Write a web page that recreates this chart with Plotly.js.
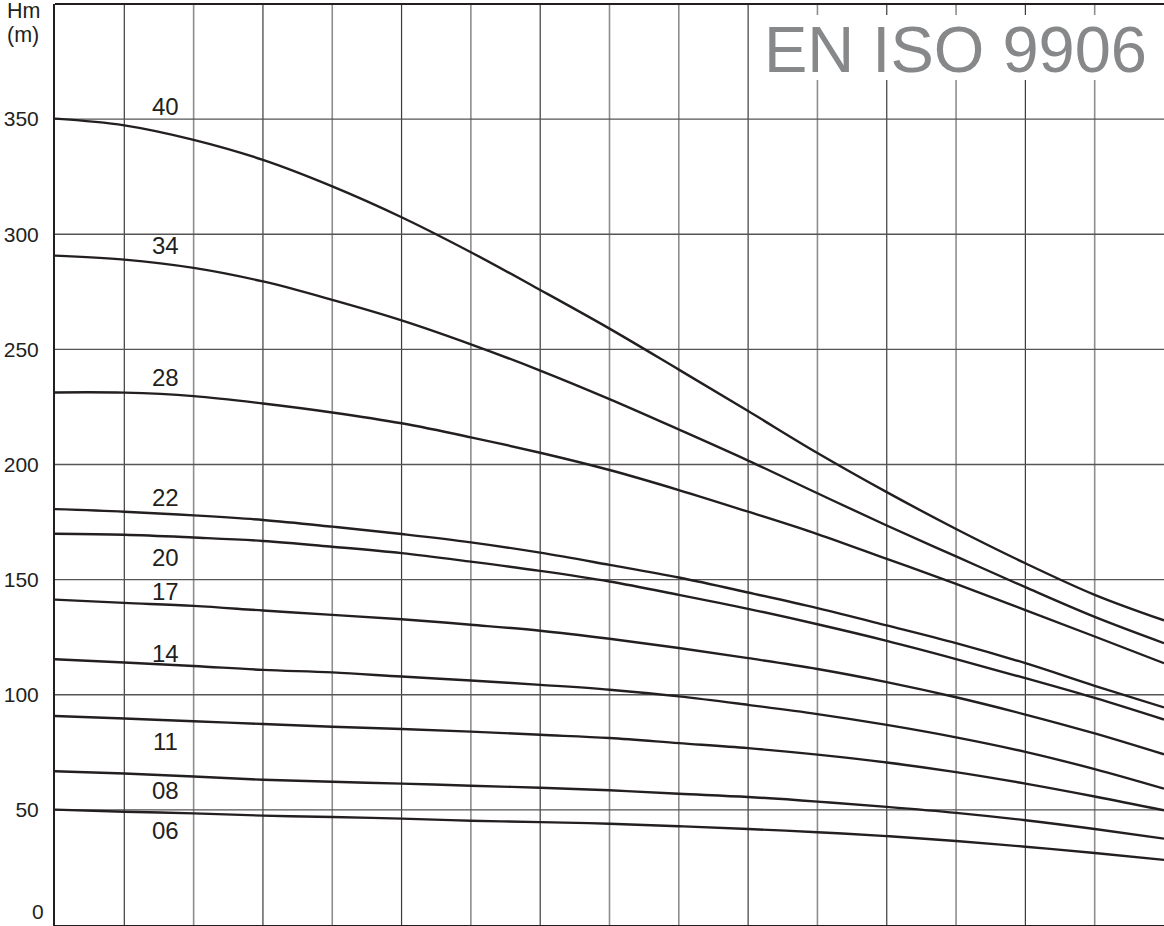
<!DOCTYPE html>
<html>
<head>
<meta charset="utf-8">
<script src="https://cdn.plot.ly/plotly-3.0.1.min.js"></script>
<style>
  html, body { margin: 0; padding: 0; background: #ffffff; }
  #chart { width: 1164px; height: 926px; }
</style>
</head>
<body>
<div id="chart"></div>
<script>
// ---- data ----
// flow axis has no printed values: positions are gridline indices
const flow = [0, 1, 2, 3, 4, 5, 6, 7, 8, 9, 10, 11, 12, 13, 14, 15, 16];
const pumpModels = ['40', '34', '28', '22', '20', '17', '14', '11', '08', '06'];
const head40 = [350.2, 347.3, 341.0, 332.3, 320.8, 307.4, 292.2, 275.8, 259.0, 241.2, 223.2, 205.0, 188.0, 172.0, 157.1, 143.4, 132.3];
const head34 = [290.7, 289.0, 285.4, 279.5, 271.5, 262.6, 252.2, 240.8, 228.4, 215.2, 201.7, 187.5, 173.5, 160.1, 146.7, 133.8, 122.4];
const head28 = [231.3, 231.2, 229.7, 226.5, 222.6, 217.9, 211.8, 205.1, 197.6, 188.9, 179.5, 169.8, 159.0, 148.2, 136.8, 125.3, 113.7];
const head22 = [180.6, 179.5, 177.9, 175.9, 173.0, 169.8, 166.2, 161.7, 156.4, 150.9, 144.4, 137.6, 130.1, 122.4, 113.7, 103.9, 94.5];
const head20 = [169.9, 169.5, 168.3, 166.8, 164.3, 161.5, 157.8, 153.8, 149.2, 143.4, 137.3, 130.6, 123.4, 115.5, 107.2, 98.6, 89.2];
const head17 = [141.3, 139.9, 138.6, 136.6, 134.7, 132.8, 130.4, 127.8, 124.3, 120.3, 115.9, 111.2, 105.5, 98.9, 91.4, 83.2, 74.1];
const head14 = [115.4, 114.0, 112.5, 110.8, 109.7, 107.9, 106.2, 104.3, 102.2, 99.3, 95.6, 91.6, 86.9, 81.5, 75.2, 67.7, 59.2];
const head11 = [90.8, 89.7, 88.5, 87.3, 86.1, 85.1, 84.0, 82.6, 81.2, 79.0, 76.8, 74.0, 70.6, 66.4, 61.4, 55.8, 49.8];
const head08 = [66.8, 65.8, 64.5, 63.1, 62.2, 61.4, 60.5, 59.6, 58.5, 57.0, 55.6, 53.6, 51.3, 48.7, 45.5, 41.7, 37.5];
const head06 = [50.1, 49.2, 48.5, 47.5, 46.9, 46.2, 45.3, 44.7, 44.0, 42.9, 41.7, 40.3, 38.6, 36.5, 34.0, 31.3, 28.3];
const yTickVals = [0, 50, 100, 150, 200, 250, 300, 350];
const yTickText = ['0', '50', '100', '150', '200', '250', '300', '350'];
const yAxisLabel = ['Hm', '(m)'];
const standardText = 'EN ISO 9906';

// ---- drawing ----
const heads = [head40, head34, head28, head22, head20, head17, head14, head11, head08, head06];
const ink = '#231f20';
const darkGrid = '#3a3a3a';
const lightGrid = '#8e8e8e';
const fontFam = 'Liberation Sans, Arial, sans-serif';

const traces = heads.map((h, i) => ({
  x: flow, y: h, type: 'scatter', mode: 'lines', name: pumpModels[i],
  line: { color: ink, width: 2.4, shape: 'spline', smoothing: 1 },
  hoverinfo: 'skip'
}));

const shapes = [];
const darkCols = [1, 3, 5, 7, 10, 12, 14];
for (let k = 1; k < flow.length - 1; k++) {
  const dark = darkCols.includes(k);
  shapes.push({ type: 'line', layer: 'below', xref: 'x', yref: 'paper', x0: k, x1: k, y0: 0, y1: 1,
    line: { color: dark ? darkGrid : lightGrid, width: dark ? 1.2 : 1.6 } });
}
yTickVals.slice(1).forEach(v => {
  shapes.push({ type: 'line', layer: 'below', xref: 'paper', yref: 'y', x0: 0, x1: 1, y0: v, y1: v,
    line: { color: '#555555', width: 1.3 } });
});
// white panel behind the standard label
shapes.push({ type: 'rect', layer: 'below', xref: 'paper', yref: 'paper',
  x0: 0.638, x1: 0.99, y0: 0.9175, y1: 0.988, fillcolor: '#ffffff', line: { width: 0 } });
// top frame line
shapes.push({ type: 'line', xref: 'paper', yref: 'paper', x0: 0, x1: 1, y0: 1, y1: 1,
  line: { color: ink, width: 2 } });

// curve labels: placed relative to each curve near x = 1.6
const labelX = 1.6;
const labelShift = [28, 19, 17, 16.5, -21, 13, 11, -21, -15, -18];
const annotations = heads.map((h, i) => {
  const y = h[1] + (h[2] - h[1]) * (labelX - 1);
  return { x: labelX, y: y, xref: 'x', yref: 'y', text: pumpModels[i], showarrow: false,
    xanchor: 'center', yanchor: 'middle', yshift: labelShift[i],
    font: { family: fontFam, size: 24, color: ink } };
});
yAxisLabel.forEach((t, i) => {
  annotations.push({ xref: 'paper', yref: 'paper', x: -0.0442, y: 1.006 - i * 0.026, xanchor: 'left', yanchor: 'top',
    text: t, showarrow: false, align: 'left', borderpad: 0,
    font: { family: fontFam, size: 21.5, color: ink } });
});
// lowest tick label, lifted so it stays inside the picture
annotations.push({ xref: 'paper', yref: 'y', x: 0, y: yTickVals[0], xanchor: 'right', yanchor: 'bottom',
  xshift: -10, yshift: 1, text: yTickText[0], showarrow: false, borderpad: 0,
  font: { family: fontFam, size: 21, color: ink } });
annotations.push({ xref: 'paper', yref: 'paper', x: 0.8116, y: 0.9506, xanchor: 'center', yanchor: 'middle',
  text: standardText, showarrow: false, borderpad: 0,
  font: { family: fontFam, size: 65, color: '#87888a' } });

const layout = {
  width: 1164, height: 926,
  margin: { l: 55, r: 0, t: 4, b: 1 },
  paper_bgcolor: '#ffffff', plot_bgcolor: '#ffffff',
  showlegend: false,
  xaxis: { range: [0, 16], showgrid: false, zeroline: false, showticklabels: false, ticks: '',
    showline: true, linecolor: ink, linewidth: 2, fixedrange: true },
  yaxis: { range: [0, 400], showgrid: false, zeroline: false,
    tickvals: yTickVals.slice(1), ticktext: yTickText.slice(1),
    ticks: '', ticklabelstandoff: 10, showline: true, linecolor: ink, linewidth: 2, fixedrange: true,
    tickfont: { family: fontFam, size: 21, color: ink } },
  shapes: shapes,
  annotations: annotations
};

Plotly.newPlot('chart', traces, layout, { displayModeBar: false, staticPlot: true });
</script>
</body>
</html>
